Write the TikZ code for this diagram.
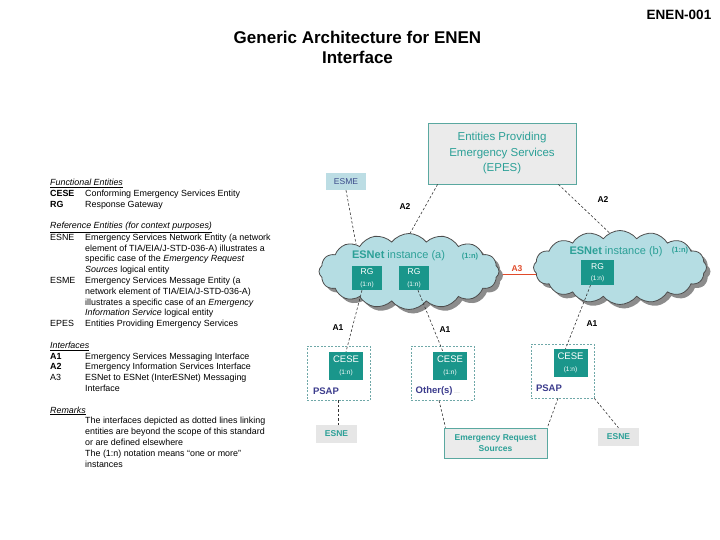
\documentclass[tikz,border=0pt]{standalone}
\usepackage{fontspec}
\setmainfont{Liberation Sans}
\usetikzlibrary{shapes.symbols,shadows,calc}
\definecolor{tealbox}{HTML}{1A968B}
\definecolor{tealtxt}{HTML}{2CA097}
\definecolor{cloudfill}{HTML}{B5DDE3}
\definecolor{cloudline}{HTML}{4D4D4D}
\definecolor{epesfill}{HTML}{EBEBEB}
\definecolor{epesline}{HTML}{5AA8A0}
\definecolor{esmefill}{HTML}{BCDDE4}
\definecolor{esmetxt}{HTML}{3A4A8A}
\definecolor{esnefill}{HTML}{E6E6E6}
\definecolor{psaptxt}{HTML}{3B3B8C}
\definecolor{psapline}{HTML}{6FA8A8}
\definecolor{redA}{HTML}{E04A2A}
\begin{document}
\begin{tikzpicture}[x=1pt,y=-1pt,
  netcloud/.style={cloud, cloud puffs=16, cloud puff arc=105, cloud ignores aspect,
    draw=cloudline, line width=0.8pt, fill=cloudfill,
    drop shadow={shadow xshift=4pt, shadow yshift=-4pt, fill=black!45, opacity=1}},
  rgbox/.style={rectangle, fill=tealbox, text=white, inner sep=0pt, align=center},
  psapbox/.style={rectangle, draw=psapline, dash pattern=on 2pt off 1.5pt, line width=0.7pt, inner sep=0pt},
  lightbox/.style={rectangle, fill=esnefill, inner sep=0pt, text=tealtxt, font=\fontsize{8.5}{10}\selectfont\bfseries},
  dline/.style={draw=black!80, dash pattern=on 2.5pt off 2pt, line width=0.6pt},
  alabel/.style={font=\fontsize{8.5}{10}\selectfont\bfseries, inner sep=0pt},
  sublabel/.style={font=\fontsize{9.5}{11}\selectfont\bfseries, text=psaptxt, inner sep=0pt}
]
\useasboundingbox (0,0) rectangle (720,540);

% titles
\node[font=\fontsize{13.5}{16}\selectfont\bfseries, inner sep=0pt] (docid) at (679,15) {ENEN-001};
\node[font=\fontsize{17}{20}\selectfont\bfseries, align=center, inner sep=0pt] (title) at (357.5,47) {Generic Architecture for ENEN\\Interface};

% legend
\node[anchor=north west, inner sep=0pt, font=\fontsize{8.9}{10.8}\selectfont] (legend) at (50,178) {%
\begin{tabular}{@{}p{35pt}@{}l@{}}
\multicolumn{2}{@{}l@{}}{\underline{\textit{Functional Entities}}}\\
\textbf{CESE} & Conforming Emergency Services Entity\\
\textbf{RG} & Response Gateway\\
 & \\
\multicolumn{2}{@{}l@{}}{\underline{\textit{Reference Entities (for context purposes)}}}\\
ESNE & Emergency Services Network Entity (a network\\
 & element of TIA/EIA/J-STD-036-A) illustrates a\\
 & specific case of the \textit{Emergency Request}\\
 & \textit{Sources} logical entity\\
ESME & Emergency Services Message Entity (a\\
 & network element of TIA/EIA/J-STD-036-A)\\
 & illustrates a specific case of an \textit{Emergency}\\
 & \textit{Information Service} logical entity\\
EPES & Entities Providing Emergency Services\\
 & \\
\multicolumn{2}{@{}l@{}}{\underline{\textit{Interfaces}}}\\
\textbf{A1} & Emergency Services Messaging Interface\\
\textbf{A2} & Emergency Information Services Interface\\
A3 & ESNet to ESNet (InterESNet) Messaging\\
 & Interface\\
 & \\
\multicolumn{2}{@{}l@{}}{\underline{\textit{Remarks}}}\\
 & The interfaces depicted as dotted lines linking\\
 & entities are beyond the scope of this standard\\
 & or are defined elsewhere\\
 & The (1:n) notation means “one or more”\\
 & instances
\end{tabular}};

% top boxes
\node[rectangle, fill=epesfill, draw=epesline, line width=0.8pt, minimum width=148pt, minimum height=61pt,
  text=tealtxt, align=center, font=\fontsize{11.5}{15.5}\selectfont] (epes) at (502,153.5)
  {Entities Providing\\Emergency Services\\(EPES)};
\node[rectangle, fill=esmefill, minimum width=40pt, minimum height=17pt, inner sep=0pt,
  text=esmetxt, font=\fontsize{8.5}{10}\selectfont] (esme) at (346,181.5) {ESME};

% connector end points hidden under the clouds
\coordinate (ca-esme) at (356,244);
\coordinate (ca-epes) at (404,244);
\coordinate (cb-epes) at (617,240);
\coordinate (ca-a3) at (488,274);
\coordinate (cb-a3) at (548,274);

\draw[dline] (esme.south) -- (ca-esme);
\draw[dline] ([xshift=10pt]epes.south west) -- (ca-epes);
\draw[dline] ([xshift=-18pt]epes.south east) -- (cb-epes);
\draw[draw=redA, line width=0.9pt] (ca-a3) -- (cb-a3);

% clouds
\node[netcloud, minimum width=180pt, minimum height=76pt] (clouda) at (409,271.5) {};
\node[netcloud, minimum width=173pt, minimum height=74pt] (cloudb) at (620,267.5) {};

\node[text=tealtxt, font=\fontsize{11}{13}\selectfont, inner sep=0pt] (neta) at (398.5,256) {\textbf{ESNet} instance (a)};
\node[text=tealtxt, font=\fontsize{7.5}{9}\selectfont\bfseries, inner sep=0pt] (neta-n) at (470,257) {(1:n)};
\node[text=tealtxt, font=\fontsize{11}{13}\selectfont, inner sep=0pt] (netb) at (616,252) {\textbf{ESNet} instance (b)};
\node[text=tealtxt, font=\fontsize{7.5}{9}\selectfont\bfseries, inner sep=0pt] (netb-n) at (680,251) {(1:n)};

\node[redA, alabel] (a3) at (517,268.5) {A3};

% RG boxes
\node[rgbox, minimum width=30pt, minimum height=24pt] (rga1) at (367,278)
  {\fontsize{8.5}{9}\selectfont RG\\[-0.5pt]\fontsize{6.5}{7}\selectfont (1:n)};
\node[rgbox, minimum width=30pt, minimum height=24pt] (rga2) at (414,278)
  {\fontsize{8.5}{9}\selectfont RG\\[-0.5pt]\fontsize{6.5}{7}\selectfont (1:n)};
\node[rgbox, minimum width=33pt, minimum height=25pt] (rgb) at (597.5,272.5)
  {\fontsize{8.5}{9}\selectfont RG\\[-0.5pt]\fontsize{6.5}{7}\selectfont (1:n)};

% PSAP / Other boxes
\node[psapbox, minimum width=63pt, minimum height=54pt] (p1) at (338.5,373) {};
\node[psapbox, minimum width=63pt, minimum height=54pt] (p2) at (442.5,373) {};
\node[psapbox, minimum width=63pt, minimum height=54pt] (p3) at (562.5,371) {};

\node[rgbox, minimum width=34pt, minimum height=28pt] (c1) at (346,366)
  {\fontsize{9.5}{10}\selectfont CESE\\[0pt]\fontsize{6.5}{7}\selectfont (1:n)};
\node[rgbox, minimum width=34pt, minimum height=28pt] (c2) at (450,366)
  {\fontsize{9.5}{10}\selectfont CESE\\[0pt]\fontsize{6.5}{7}\selectfont (1:n)};
\node[rgbox, minimum width=34pt, minimum height=28pt] (c3) at (570.5,363)
  {\fontsize{9.5}{10}\selectfont CESE\\[0pt]\fontsize{6.5}{7}\selectfont (1:n)};

\node[sublabel] (psap1) at (326,391.5) {PSAP};
\node[sublabel, anchor=west] (other) at (415.5,391) {Other(s)\,\textcolor{black!25}{\fontsize{7}{8}\selectfont\mdseries ...}};
\node[sublabel] (psap3) at (549,388) {PSAP};

% bottom boxes
\node[lightbox, minimum width=41pt, minimum height=18pt] (esne1) at (336.5,434) {ESNE};
\node[lightbox, minimum width=41pt, minimum height=18pt] (esne2) at (618.5,437) {ESNE};
\node[rectangle, fill=epesfill, draw=epesline, line width=0.8pt, minimum width=103pt, minimum height=30pt,
  inner sep=0pt, text=tealtxt, align=center, font=\fontsize{8.5}{11}\selectfont\bfseries] (ers) at (495.5,443)
  {Emergency Request\\Sources};

% connectors
\draw[dline] ([xshift=-5pt]rga1.south) -- (c1.north);
\draw[dline] ([xshift=4pt]rga2.south) -- ([xshift=-7pt]c2.north);
\draw[dline] ([xshift=-7pt]rgb.south) -- ([xshift=-5pt]c3.north);
\draw[dline] (p1.south) -- (p1.south |- esne1.north);
\draw[dline] ([xshift=-3.5pt]p2.south) -- ([xshift=-50pt]ers.north);
\draw[dline] ([xshift=-4.5pt]p3.south) -- (ers.north east);
\draw[dline] (p3.south east) -- (esne2.north);

% interface labels
\node[alabel] (a2l) at (405,207) {A2};
\node[alabel] (a2r) at (603,200) {A2};
\node[alabel] (a1a) at (338,328) {A1};
\node[alabel] (a1b) at (445,330) {A1};
\node[alabel] (a1c) at (592,324) {A1};
\end{tikzpicture}
\end{document}
